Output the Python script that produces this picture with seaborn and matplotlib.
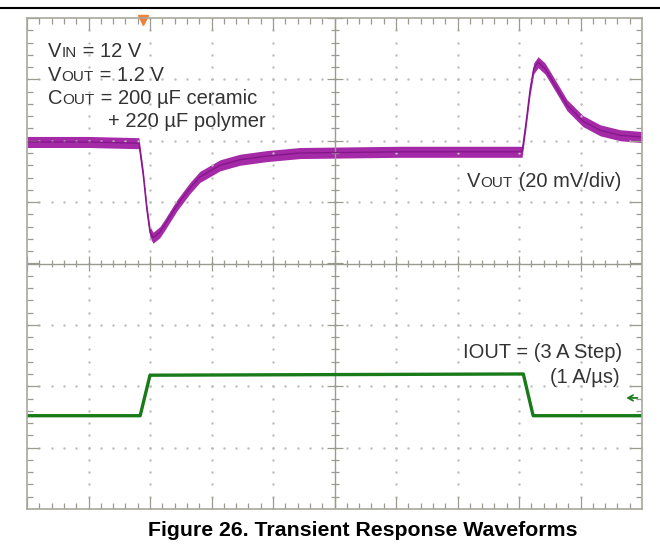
import numpy as np
import matplotlib
matplotlib.use("Agg")
import matplotlib.pyplot as plt
import seaborn as sns
import pandas as pd
from matplotlib.collections import LineCollection
from matplotlib.lines import Line2D

# waveform readings (time and amplitude in screen divisions)
vout_t = [0.0, 1.0, 1.82, 1.89, 1.95, 2.0, 2.05, 2.16, 2.24, 2.44, 2.65, 2.81,
          3.14, 3.46, 3.9, 4.44, 6.07, 8.05, 8.11, 8.18, 8.24, 8.31, 8.42,
          8.5, 8.78, 9.04, 9.32, 9.64, 10.0]
vout_v = [1.98, 1.98, 1.96, 1.44, 0.87, 0.51, 0.42, 0.51, 0.63, 0.95, 1.23, 1.41,
          1.6, 1.69, 1.75, 1.8, 1.82, 1.82, 2.26, 2.83, 3.18, 3.28, 3.18,
          3.05, 2.58, 2.32, 2.17, 2.09, 2.06]
iout_t = [0.0, 1.84, 2.0, 8.07, 8.23, 10.0]
iout_v = [-2.48, -2.48, -1.82, -1.80, -2.48, -2.48]

trig_t = 1.89      # trigger marker position
gnd_iout = -2.19   # channel reference arrow

W, H = 660, 554

sns.set_style("white")
plt.rcParams['font.family'] = ['Liberation Sans', 'DejaVu Sans']

fig = plt.figure(figsize=(W / 100, H / 100), dpi=100)
ax = fig.add_axes([27 / W, (H - 509) / H, 615 / W, 491 / H])
ax.set_xlim(0, 10)
ax.set_ylim(-4, 4)
ax.set_xticks([])
ax.set_yticks([])
for s in ax.spines.values():
    s.set_color('#a8a89c')
    s.set_linewidth(1.2)

grid_col = '#bdbdbd'
line_col = '#9a9a90'

# dotted graticule
minor = np.arange(0, 10.01, 0.2)
minor_y = np.arange(-4, 4.01, 0.2)
for gx in range(1, 10):
    if gx != 5:
        ax.plot([gx] * len(minor_y), minor_y, ls='none', marker='.', ms=1.5, color=grid_col)
for gy in range(-3, 4):
    if gy != 0:
        ax.plot(minor, [gy] * len(minor), ls='none', marker='.', ms=1.5, color=grid_col)

# centre cross
ax.axhline(0, color=line_col, lw=1)
ax.axvline(5, color=line_col, lw=1)

px_x = 1 / 61.5
px_y = 1 / 61.4
segs = []
for t in minor:
    big = abs(t - round(t)) < 1e-6
    cl = (8 if big else 4) * px_y
    el = (12 if big else 6) * px_y
    segs.append([(t, -cl), (t, cl)])
    segs.append([(t, 4), (t, 4 - el)])
    segs.append([(t, -4), (t, -4 + el)])
for v in minor_y:
    big = abs(v - round(v)) < 1e-6
    cl = (8 if big else 4) * px_x
    el = (12 if big else 6) * px_x
    segs.append([(5 - cl, v), (5 + cl, v)])
    segs.append([(0, v), (el, v)])
    segs.append([(10, v), (10 - el, v)])
ax.add_collection(LineCollection(segs, colors=line_col, linewidths=0.9))

# traces
vout = pd.DataFrame({'t': vout_t, 'v': vout_v})
iout = pd.DataFrame({'t': iout_t, 'v': iout_v})
band = 0.09
ax.fill_between(vout['t'], vout['v'] - band, vout['v'] + band, color='#a52aa8', lw=0)
sns.lineplot(data=vout, x='t', y='v', ax=ax, color='#84188a', lw=1.0, sort=False)
sns.lineplot(data=iout, x='t', y='v', ax=ax, color='#197a19', lw=2.4, sort=False)
ax.set_xlabel('')
ax.set_ylabel('')

# markers
ax.plot([trig_t], [4 - 2 * px_y], marker='v', ms=7, color='#f0803a', clip_on=False)
ax.annotate('', xy=(9.7, gnd_iout), xytext=(9.97, gnd_iout),
            arrowprops=dict(arrowstyle='->,head_length=0.35,head_width=0.2',
                            color='#1c801c', lw=1.3))

# text
renderer = fig.canvas.get_renderer()
txt_col = '#333333'
BIG, SMALL = 14.5, 11


def rich(x, y, parts):
    # x, y in pixels, y measured from the top
    for s, size in parts:
        t = fig.text(x / W, (H - y) / H, s, fontsize=size, color=txt_col, va='baseline')
        x = t.get_window_extent(renderer).x1


rich(48, 57, [('V', BIG), ('IN', SMALL), (' = 12 V', BIG)])
rich(48, 81, [('V', BIG), ('OUT', SMALL), (' = 1.2 V', BIG)])
rich(48, 104, [('C', BIG), ('OUT', SMALL), (' = 200 µF ceramic', BIG)])
rich(108, 127, [('+ 220 µF polymer', BIG)])
rich(467, 187, [('V', BIG), ('OUT', SMALL), (' (20 mV/div)', BIG)])
fig.text(622 / W, (H - 358) / H, 'IOUT = (3 A Step)', fontsize=BIG, color=txt_col,
         ha='right', va='baseline')
fig.text(620 / W, (H - 383) / H, '(1 A/µs)', fontsize=BIG, color=txt_col,
         ha='right', va='baseline')

fig.text(363 / W, (H - 536) / H, 'Figure 26. Transient Response Waveforms',
         fontsize=15.3, fontweight='bold', color='black', ha='center', va='baseline')

fig.add_artist(Line2D([0, 1], [1 - 8 / H, 1 - 8 / H], color='black', lw=1.5))

fig.savefig('out.png', dpi=100)
